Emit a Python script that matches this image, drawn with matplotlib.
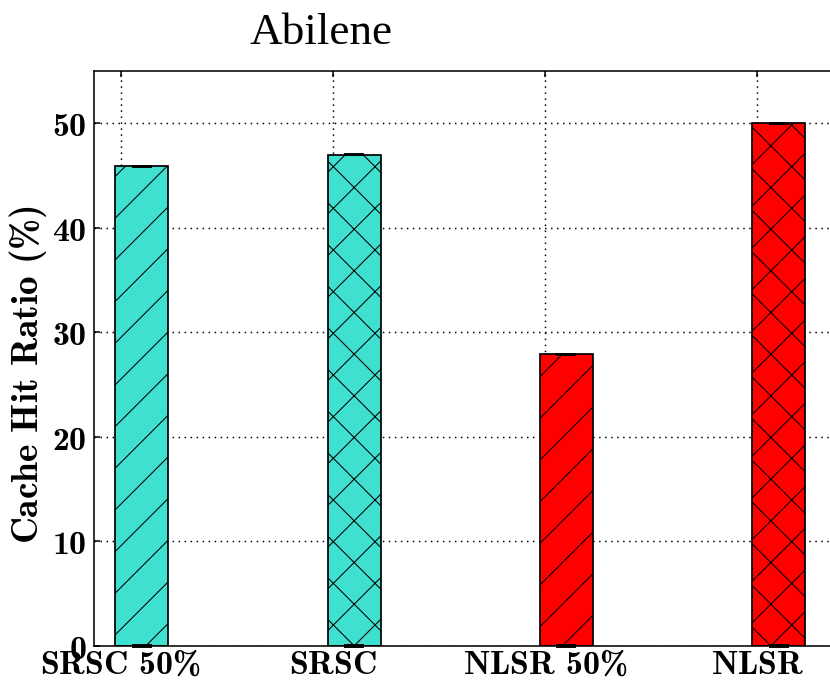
import matplotlib
matplotlib.use("Agg")
import matplotlib.pyplot as plt
import numpy as np

# Data
categories = ["SRSC 50%", "SRSC", "NLSR 50%", "NLSR"]
hit_ratio = [45.9, 47.0, 27.9, 50.0]
hit_err = [0.05, 0.05, 0.05, 0.05]
bar_colors = ["#40E0D0", "#40E0D0", "#FF0000", "#FF0000"]
bar_hatches = ["/", "x", "/", "x"]
y_ticks = [0, 10, 20, 30, 40, 50]

DPI = 125
W, H = 830, 681

plt.rcParams["mathtext.fontset"] = "custom"
plt.rcParams["mathtext.bf"] = "cmb10"
plt.rcParams["mathtext.rm"] = "cmr10"
plt.rcParams["hatch.linewidth"] = 0.6
plt.rcParams["lines.scale_dashes"] = False

fig = plt.figure(figsize=(W / DPI, H / DPI), dpi=DPI)
ax = fig.add_axes([94 / W, 1 - 646 / H, (837 - 94) / W, (646 - 71) / H])

pos = np.arange(len(categories))
width = 0.25
offset = 0.1

ax.bar(pos + offset, hit_ratio, width, color=bar_colors, hatch=bar_hatches,
       edgecolor="black", linewidth=1.0, zorder=2)
ax.errorbar(pos + offset, hit_ratio, yerr=hit_err, fmt="none", ecolor="black",
            elinewidth=0.9, capsize=5.8, capthick=1.1, zorder=3)
ax.errorbar(pos + offset, np.zeros(len(pos)), yerr=hit_err, fmt="none",
            ecolor="black", elinewidth=0.9, capsize=5.8, capthick=1.1,
            zorder=3, clip_on=False)


def bold(s):
    return r"$\mathbf{%s}$" % s.replace(" ", r"\ ").replace("%", r"\%")


ax.set_xlim(-0.125, 3.375)
ax.set_ylim(0, 55)
ax.set_xticks(pos)
ax.set_xticklabels([bold(c) for c in categories])
ax.set_yticks(y_ticks)
ax.set_yticklabels([bold(str(v)) for v in y_ticks])

ax.tick_params(axis="both", direction="in", length=3.5, width=0.9,
               labelsize=19.5, top=True, right=True)
ax.tick_params(axis="x", pad=1.2)
ax.tick_params(axis="y", pad=4.3)

ax.grid(True, color="black", linestyle=(0, (0.86, 2.6)), linewidth=0.86, zorder=1)
ax.set_axisbelow(True)

for s in ax.spines.values():
    s.set_linewidth(0.9)

ax.set_ylabel(bold("Cache Hit Ratio (%)"), fontsize=21.5)
ax.yaxis.set_label_coords(-0.061, 0.473)

fig.text(321 / W, 1 - 44 / H, "Abilene", ha="center", va="baseline",
         fontsize=26, family="Liberation Serif")

fig.savefig("out.png", dpi=DPI)
